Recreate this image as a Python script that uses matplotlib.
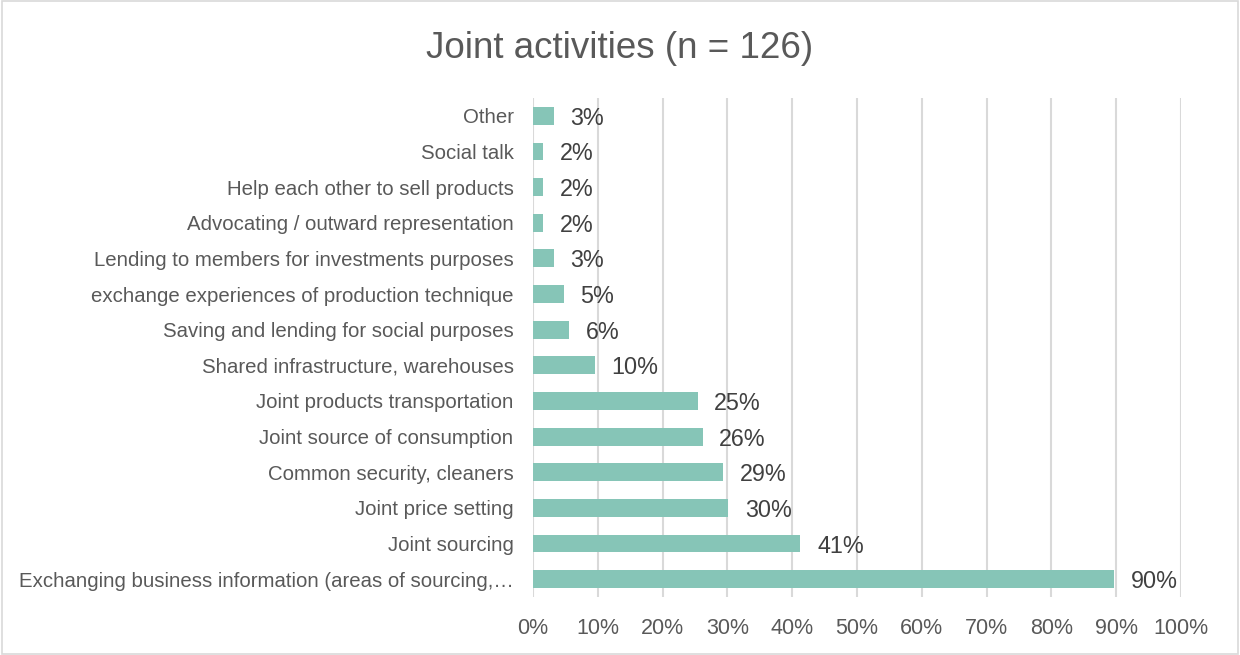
import numpy as np
import matplotlib.pyplot as plt
from matplotlib.patches import Rectangle

plt.rcParams['font.family'] = ['Liberation Sans', 'DejaVu Sans']

# Categories from bottom to top (as drawn)
categories = [
    "Exchanging business information (areas of sourcing,\u2026",
    "Joint sourcing",
    "Joint price setting",
    "Common security, cleaners",
    "Joint source of consumption",
    "Joint products transportation",
    "Shared infrastructure, warehouses",
    "Saving and lending for social purposes",
    "exchange experiences of production technique",
    "Lending to members for investments purposes",
    "Advocating / outward representation",
    "Help each other to sell products",
    "Social talk",
    "Other",
]
# respondents per activity, out of n = 126
counts = [113, 52, 38, 37, 33, 32, 12, 7, 6, 4, 2, 2, 2, 4]
n_total = 126
shares = np.array(counts) / n_total * 100

bar_color = "#86C5B7"
grid_color = "#D9D9D9"
text_color = "#595959"
label_color = "#404040"

fig = plt.figure(figsize=(12.4, 6.55), dpi=100)
ax = fig.add_axes([0.4298, 0.0885, 0.5226, 0.7619])

y = np.arange(len(categories))
ax.barh(y, shares, height=0.5, color=bar_color, zorder=3)

for yi, v in zip(y, shares):
    ax.annotate(f"{v:.0f}%", xy=(v, yi), xytext=(12, 0), textcoords="offset points",
                va="center_baseline", ha="left", fontsize=16.8, color=label_color)

ax.set_xlim(0, 100)
ax.set_ylim(-0.5, len(categories) - 0.5)
ax.set_xticks(np.arange(0, 101, 10))
ax.set_xticklabels([f"{t}%" for t in range(0, 101, 10)])
ax.set_yticks(y)
ax.set_yticklabels(categories)
ax.tick_params(axis="x", length=0, labelsize=15.5, labelcolor=text_color, pad=15)
ax.tick_params(axis="y", length=0, labelsize=14.7, labelcolor=text_color, pad=14)
ax.grid(axis="x", color=grid_color, linewidth=1.5, zorder=0)
for s in ax.spines.values():
    s.set_visible(False)

fig.text(0.5, 0.926, f"Joint activities (n = {n_total})", ha="center", va="center",
         fontsize=26.5, color=text_color)

fig.patches.append(Rectangle((0.002, 0.002), 0.996, 0.996, transform=fig.transFigure,
                             fill=False, edgecolor=grid_color, linewidth=1.2))

fig.savefig("out.png", dpi=100, facecolor="white")
